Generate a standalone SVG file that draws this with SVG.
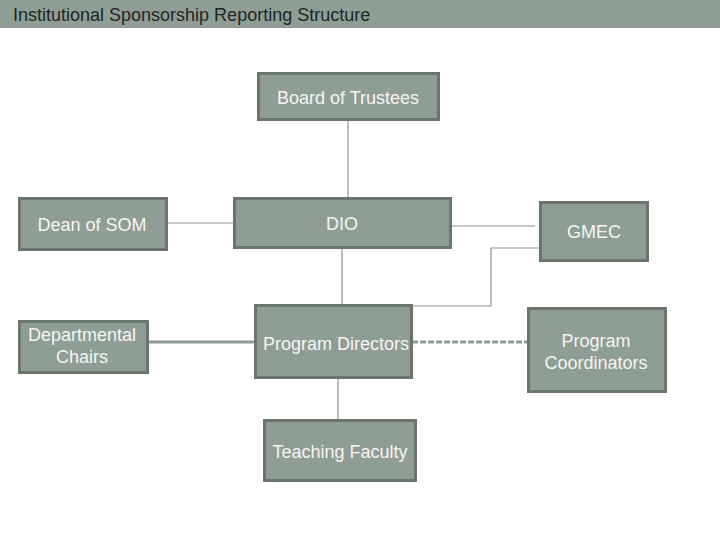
<svg xmlns="http://www.w3.org/2000/svg" width="720" height="540" viewBox="0 0 720 540">
<style>
.box{fill:#8f9e94;stroke:#6a756d;stroke-width:3}
.lbl{font-family:"Liberation Sans",Arial,sans-serif;font-size:18px;fill:#f4f4f0;text-anchor:middle}
.thin{fill:none;stroke:#8a948d;stroke-width:1.2}
.thick{fill:none;stroke:#8f9e94;stroke-width:3}
</style>
<rect width="720" height="540" fill="#ffffff"/>
<g id="title">
<rect x="0" y="0" width="720" height="28" fill="#8f9e94"/>
<text x="13" y="21" font-family="'Liberation Sans',Arial,sans-serif" font-size="18" fill="#1f2626">Institutional Sponsorship Reporting Structure</text>
</g>
<g id="connectors">
<line class="thin" x1="348" y1="121" x2="348" y2="197"/>
<line class="thin" x1="168" y1="223" x2="233" y2="223"/>
<line class="thin" x1="452" y1="226" x2="535" y2="226"/>
<polyline class="thin" points="540,248 491,248 491,306 385,306"/>
<line class="thin" x1="342" y1="249" x2="342" y2="305"/>
<line class="thick" x1="148" y1="342" x2="255" y2="342"/>
<line class="thick" x1="412" y1="342" x2="527" y2="342" stroke-dasharray="6,2"/>
<line class="thin" x1="338" y1="378" x2="338" y2="420"/>
</g>
<g id="board">
<rect class="box" x="258.5" y="73.5" width="180" height="46"/>
<text class="lbl" x="348" y="103.5">Board of Trustees</text>
</g>
<g id="dean">
<rect class="box" x="19.5" y="198.5" width="147" height="51"/>
<text class="lbl" x="92" y="230.5">Dean of SOM</text>
</g>
<g id="dio">
<rect class="box" x="234.5" y="198.5" width="216" height="49"/>
<text class="lbl" x="342" y="230">DIO</text>
</g>
<g id="gmec">
<rect class="box" x="540.5" y="202.5" width="107" height="58"/>
<text class="lbl" x="594" y="237.5">GMEC</text>
</g>
<g id="chairs">
<rect class="box" x="19.5" y="321.5" width="128" height="51"/>
<text class="lbl" x="82" y="340.5">Departmental</text>
<text class="lbl" x="82" y="362.5">Chairs</text>
</g>
<g id="directors">
<rect class="box" x="255.5" y="305.5" width="156" height="72"/>
<text class="lbl" x="336" y="349.5">Program Directors</text>
</g>
<g id="coordinators">
<rect class="box" x="528.5" y="308.5" width="137" height="83"/>
<text class="lbl" x="596" y="346.5">Program</text>
<text class="lbl" x="596" y="368.5">Coordinators</text>
</g>
<g id="faculty">
<rect class="box" x="264.5" y="420.5" width="151" height="60"/>
<text class="lbl" x="340" y="457.5">Teaching Faculty</text>
</g>
</svg>
